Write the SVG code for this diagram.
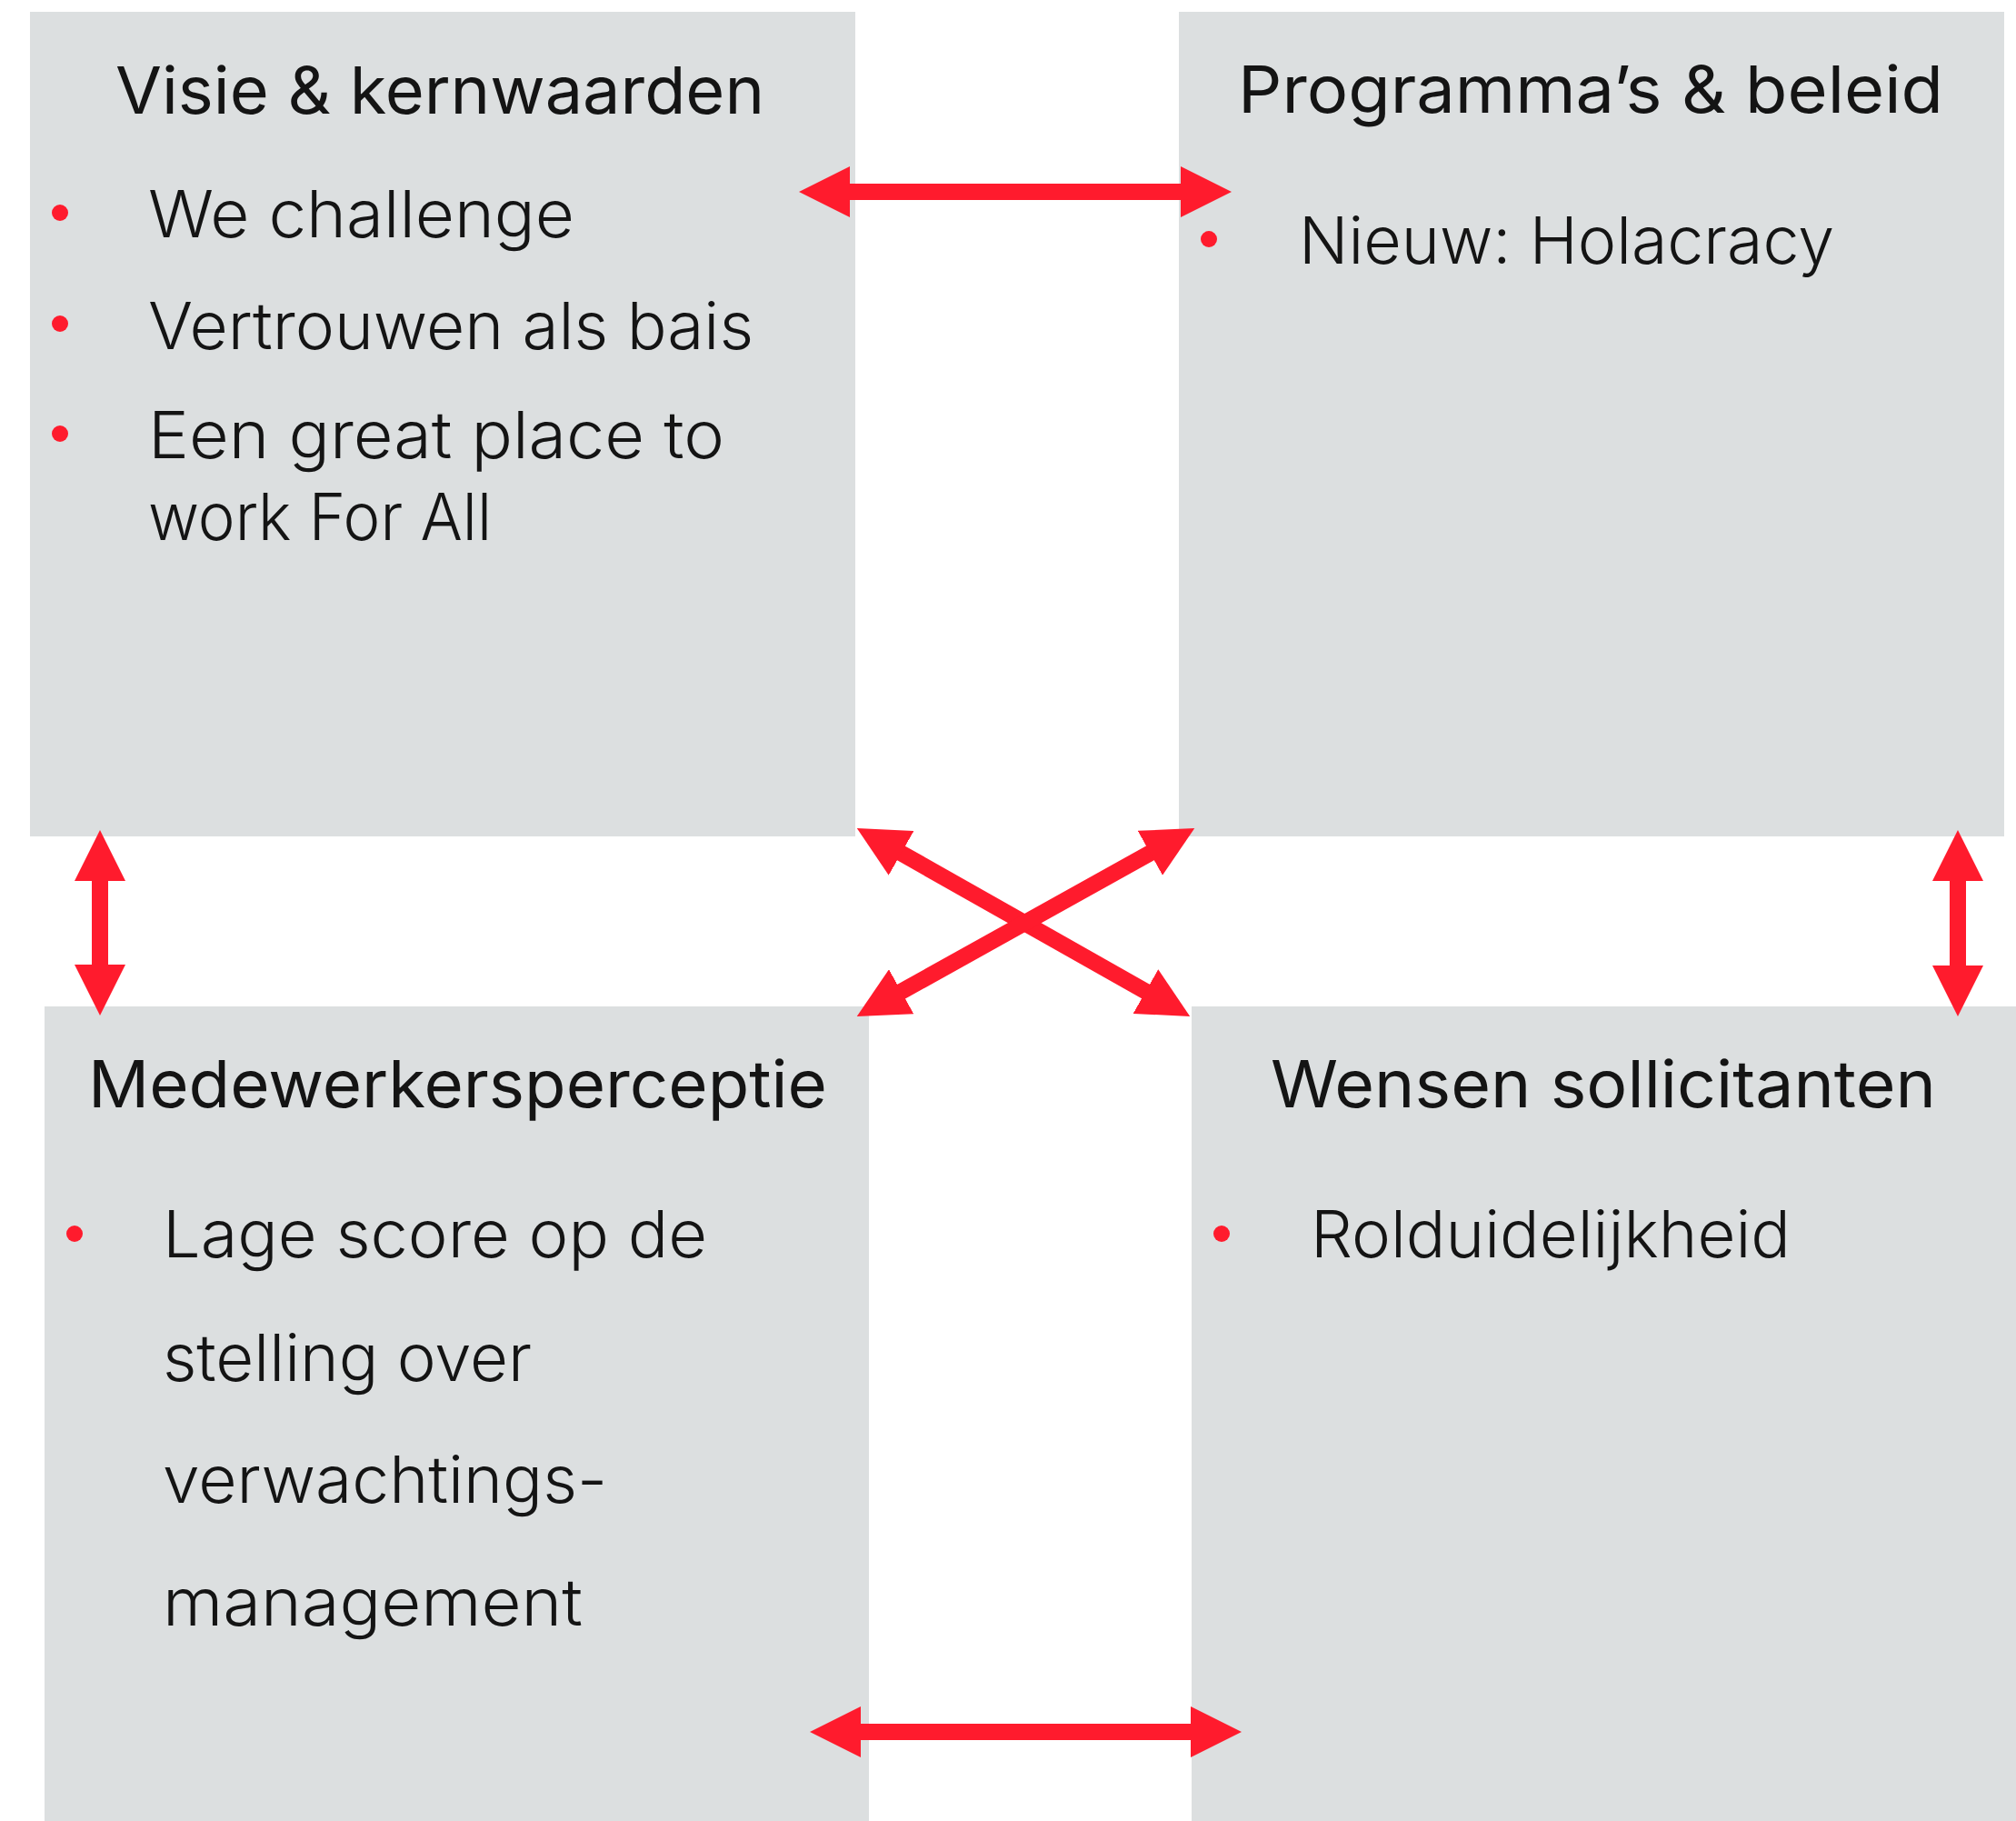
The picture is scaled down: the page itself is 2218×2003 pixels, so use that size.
<svg xmlns="http://www.w3.org/2000/svg" width="2218" height="2003" viewBox="0 0 2218 2003">
<style>
.box{fill:#DCDFE0}
.title{font-family:Inter,"Liberation Sans",sans-serif;font-size:72px;font-weight:400;fill:#141414}
.body{font-family:Inter,"Liberation Sans",sans-serif;font-size:72px;font-weight:300;fill:#141414}
.dot{fill:#FF1B2D}
.conn{stroke:#FF1B2D;stroke-width:18;fill:none;marker-start:url(#head);marker-end:url(#head)}
</style>
<defs>
<marker id="head" viewBox="0 0 56 56" markerWidth="56" markerHeight="56" markerUnits="userSpaceOnUse" refX="2" refY="28" orient="auto-start-reverse">
<path d="M0,0 L56,28 L0,56 z" fill="#FF1B2D"/>
</marker>
</defs>
<rect width="2218" height="2003" fill="#FFFFFF"/>
<g id="visie">
<rect class="box" x="33" y="13" width="908" height="907"/>
<text class="title" x="127" y="125" textLength="714" lengthAdjust="spacingAndGlyphs">Visie &amp; kernwaarden</text>
<circle class="dot" cx="66" cy="234" r="9"/>
<text class="body" x="163" y="261" textLength="469" lengthAdjust="spacingAndGlyphs">We challenge</text>
<circle class="dot" cx="66" cy="356" r="9"/>
<text class="body" x="163" y="384" textLength="666" lengthAdjust="spacingAndGlyphs">Vertrouwen als bais</text>
<circle class="dot" cx="66" cy="477" r="9"/>
<text class="body" x="163" y="504" textLength="634" lengthAdjust="spacingAndGlyphs">Een great place to</text>
<text class="body" x="163" y="594" textLength="378" lengthAdjust="spacingAndGlyphs">work For All</text>
</g>
<g id="programmas">
<rect class="box" x="1297" y="13" width="908" height="907"/>
<text class="title" x="1362" y="124" textLength="776" lengthAdjust="spacingAndGlyphs">Programma’s &amp; beleid</text>
<circle class="dot" cx="1330" cy="263" r="9"/>
<text class="body" x="1429" y="290" textLength="589" lengthAdjust="spacingAndGlyphs">Nieuw: Holacracy</text>
</g>
<g id="medewerkers">
<rect class="box" x="49" y="1107" width="907" height="896"/>
<text class="title" x="97" y="1218" textLength="813" lengthAdjust="spacingAndGlyphs">Medewerkersperceptie</text>
<circle class="dot" cx="82" cy="1357" r="9"/>
<text class="body" x="179" y="1383" textLength="599" lengthAdjust="spacingAndGlyphs">Lage score op de</text>
<text class="body" x="179" y="1519" textLength="406" lengthAdjust="spacingAndGlyphs">stelling over</text>
<text class="body" x="179" y="1653" textLength="489" lengthAdjust="spacingAndGlyphs">verwachtings-</text>
<text class="body" x="179" y="1788" textLength="462" lengthAdjust="spacingAndGlyphs">management</text>
</g>
<g id="wensen">
<rect class="box" x="1311" y="1107" width="907" height="896"/>
<text class="title" x="1398" y="1218" textLength="732" lengthAdjust="spacingAndGlyphs">Wensen sollicitanten</text>
<circle class="dot" cx="1344" cy="1357" r="9"/>
<text class="body" x="1442" y="1383" textLength="528" lengthAdjust="spacingAndGlyphs">Rolduidelijkheid</text>
</g>
<g id="connectors">
<line class="conn" x1="933" y1="211" x2="1301" y2="211"/>
<line class="conn" x1="945" y1="1905" x2="1312" y2="1905"/>
<line class="conn" x1="110" y1="967" x2="110" y2="1063"/>
<line class="conn" x1="2154" y1="967" x2="2154" y2="1064"/>
<line class="conn" x1="989.8" y1="937.5" x2="1262.2" y2="1091.5"/>
<line class="conn" x1="1267.1" y1="937.3" x2="989.9" y2="1091.7"/>
</g>
</svg>
